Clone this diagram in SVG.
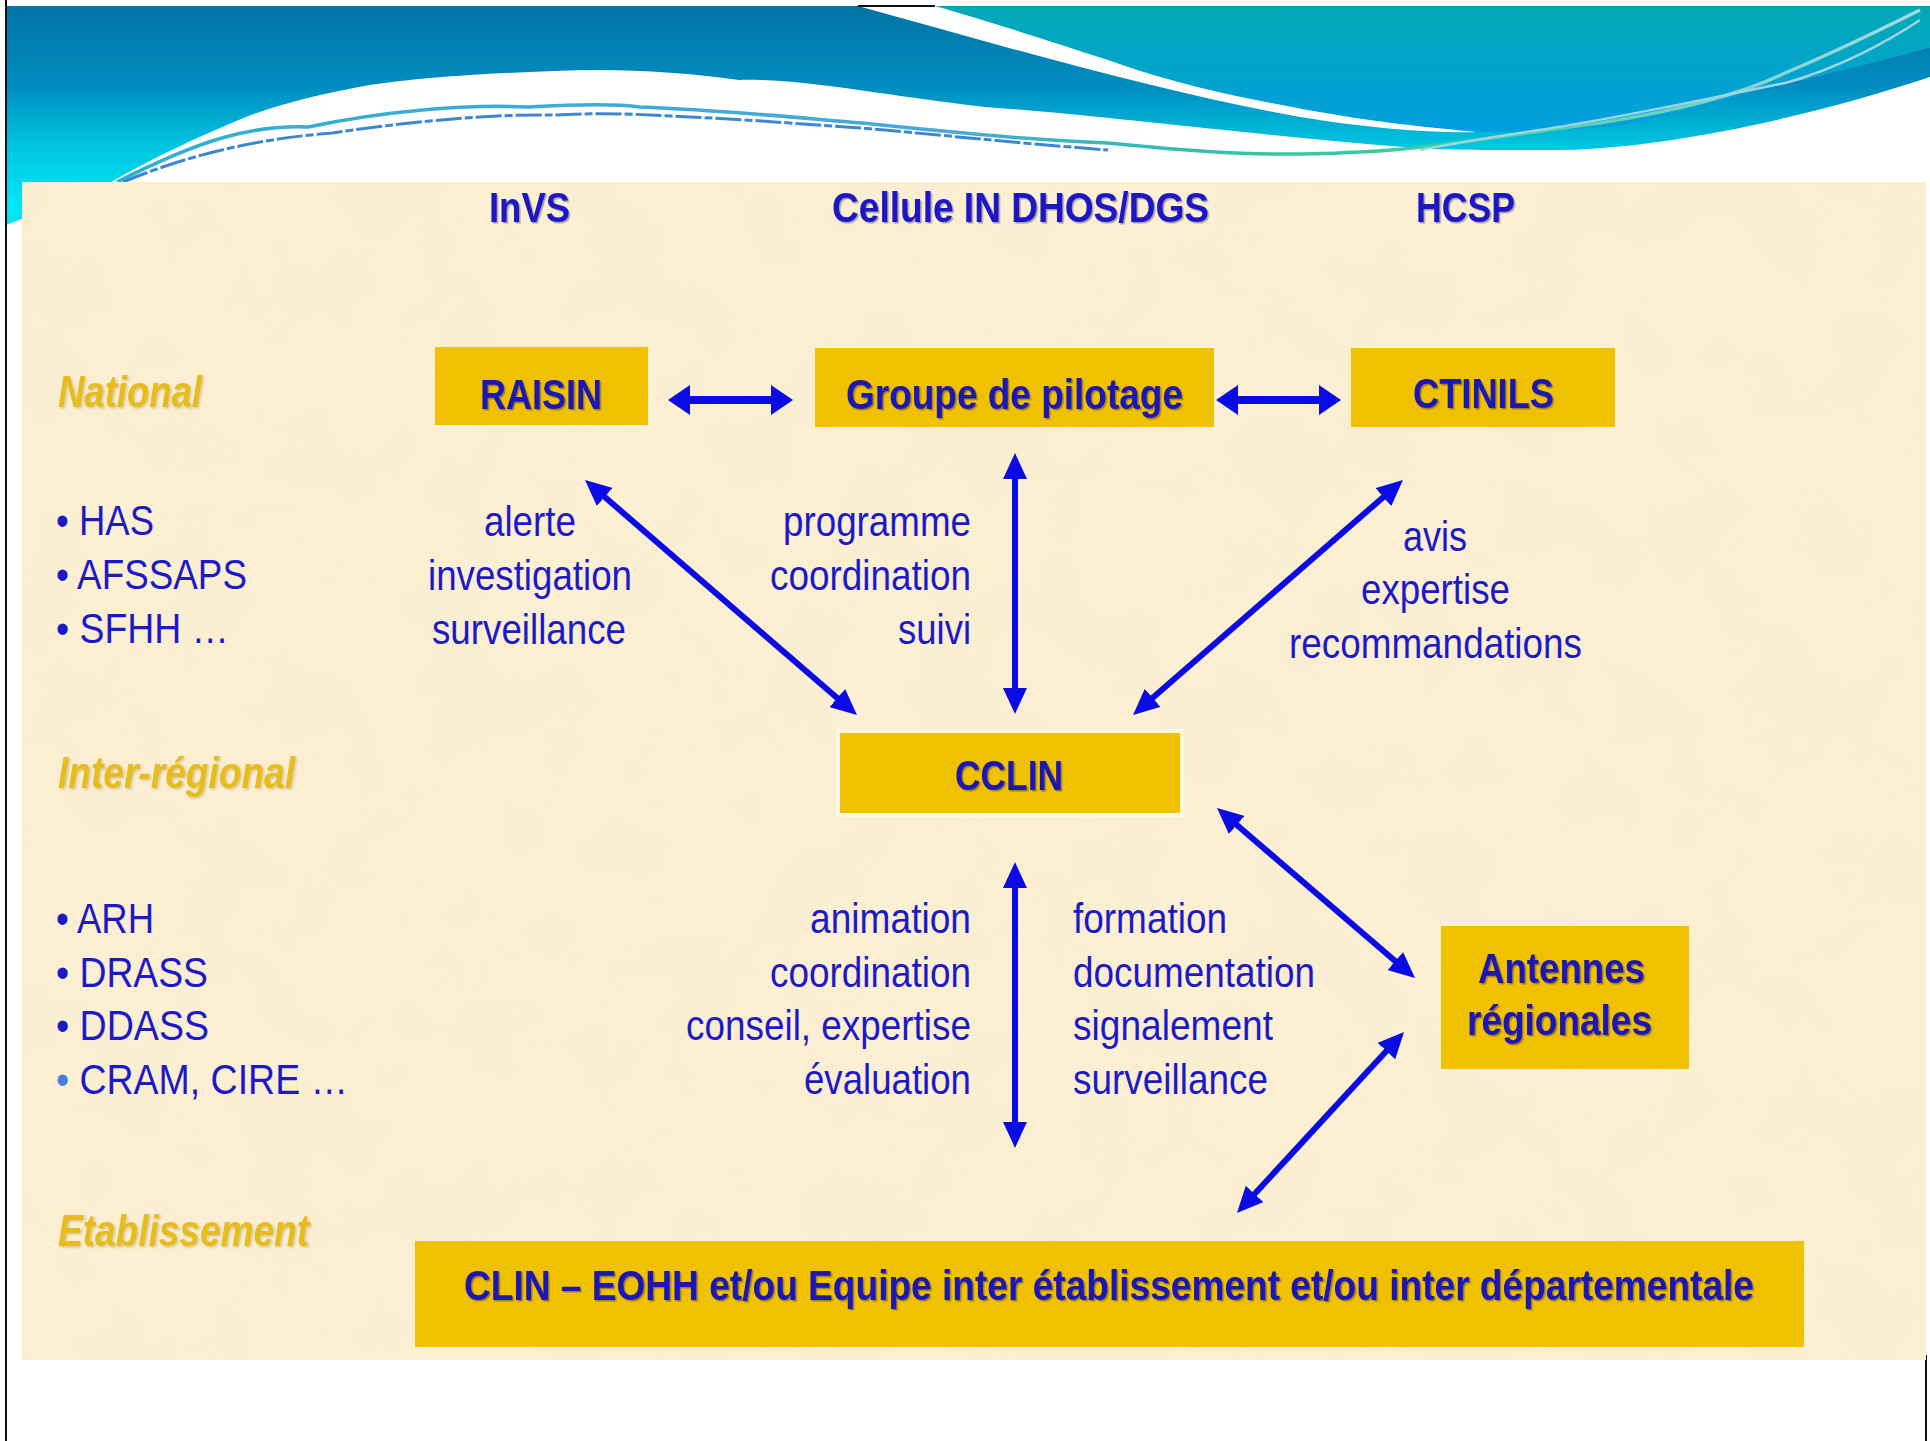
<svg xmlns="http://www.w3.org/2000/svg" width="1930" height="1441" viewBox="0 0 1930 1441">
<defs>
<linearGradient id="gLeft" x1="0" y1="6" x2="0" y2="205" gradientUnits="userSpaceOnUse">
<stop offset="0" stop-color="#0073a4"/>
<stop offset="0.4" stop-color="#008cc0"/>
<stop offset="0.7" stop-color="#00c4e0"/>
<stop offset="1" stop-color="#00e6f2"/>
</linearGradient>
<linearGradient id="gRight" x1="0" y1="0" x2="0" y2="1">
<stop offset="0" stop-color="#00a9b4"/>
<stop offset="1" stop-color="#009fe0"/>
</linearGradient>
<linearGradient id="gLine" x1="0" y1="0" x2="1" y2="0">
<stop offset="0" stop-color="#2fb0d0"/>
<stop offset="0.45" stop-color="#4aa8d8"/>
<stop offset="0.6" stop-color="#33c0a8"/>
<stop offset="0.75" stop-color="#3fd0a0"/>
<stop offset="1" stop-color="#a8d8e8"/>
</linearGradient>
<filter id="tex" x="0" y="0" width="100%" height="100%">
<feTurbulence type="fractalNoise" baseFrequency="0.012" numOctaves="3" seed="7"/>
<feColorMatrix type="matrix" values="0 0 0 0 0.92  0 0 0 0 0.84  0 0 0 0 0.66  1.1 0 0 0 -0.42"/>
</filter>
<filter id="sh" x="-5%" y="-20%" width="110%" height="140%">
<feDropShadow dx="1.5" dy="1.5" stdDeviation="0.7" flood-color="#000040" flood-opacity="0.35"/>
</filter>
<filter id="shg" x="-5%" y="-20%" width="110%" height="140%">
<feDropShadow dx="1.5" dy="1.5" stdDeviation="0.8" flood-color="#806020" flood-opacity="0.3"/>
</filter>
<marker id="ah" markerUnits="userSpaceOnUse" markerWidth="26" markerHeight="24" refX="14" refY="12" orient="auto-start-reverse" viewBox="0 0 26 24">
<path d="M0,0 L26,12 L0,24 Z" fill="#0a0ae4"/>
</marker>
<marker id="ahh" markerUnits="userSpaceOnUse" markerWidth="22" markerHeight="30" refX="12" refY="15" orient="auto-start-reverse" viewBox="0 0 22 30">
<path d="M0,0 L22,15 L0,30 Z" fill="#0a0ae4"/>
</marker>
</defs>
<style>
.hdr{font-family:"Liberation Sans Narrow","Liberation Sans",Arial,sans-serif;font-weight:bold;font-size:43px;fill:#1a16c4;filter:url(#sh)}
.lvl{font-family:"Liberation Sans Narrow","Liberation Sans",Arial,sans-serif;font-weight:bold;font-style:italic;font-size:44px;fill:#e6bd1e;filter:url(#shg)}
.lbl{font-family:"Liberation Sans Narrow","Liberation Sans",Arial,sans-serif;font-size:43px;fill:#1c1ac8}
.btx{font-family:"Liberation Sans Narrow","Liberation Sans",Arial,sans-serif;font-weight:bold;font-size:42px;fill:#1e14b4;filter:url(#sh)}
.box{fill:#efc100}
.arr{stroke:#0a0ae4;stroke-width:6;fill:none;marker-start:url(#ah);marker-end:url(#ah)}
.arrh{stroke:#0a0ae4;stroke-width:8;fill:none;marker-start:url(#ahh);marker-end:url(#ahh)}
</style>

<!-- background and banner -->
<rect x="0" y="0" width="1930" height="1441" fill="#ffffff"/>
<path d="M6,6 L858,6 C1000,45 1150,90 1300,117 C1380,130 1440,133 1477,132 C1600,128 1750,95 1930,47 L1930,77 C1800,120 1650,152 1539,150 C1480,150 1440,150 1416,148 C1250,135 1100,115 985,107 C880,95 800,78 739,80 C680,72 620,68 554,71 C470,74 420,78 369,85 C320,94 280,104 246,117 C190,140 150,160 111,182 C70,200 40,212 6,225 Z" fill="url(#gLeft)"/>
<path d="M935,6 L1930,6 L1930,47 C1850,70 1800,80 1785,83 C1700,105 1650,125 1600,127 C1560,130 1520,133 1477,132 C1400,125 1350,118 1292,107 C1200,90 1150,75 1108,60 C1040,38 985,20 935,6 Z" fill="url(#gRight)"/>
<path d="M117,182 C200,140 250,125 308,127 C380,112 460,104 529,107 C580,104 620,104 640,107 C720,110 790,117 862,123 C950,132 1030,140 1108,143 C1180,150 1240,155 1292,154 C1330,154 1360,152 1391,150 C1450,145 1530,132 1600,123 C1680,110 1740,95 1785,73 C1840,50 1890,25 1920,10" fill="none" stroke="url(#gLine)" stroke-width="3.5"/>
<path d="M123,182 C200,150 270,138 332,133 C420,120 500,114 554,115 C610,112 650,115 689,117 C760,120 810,125 862,128 C950,136 1040,145 1108,150" fill="none" stroke="#3d86d2" stroke-width="3" stroke-dasharray="26 3 8 3"/>
<path d="M1420,150 C1460,142 1500,136 1539,130 C1620,118 1700,100 1785,83 C1840,68 1890,40 1920,20" fill="none" stroke="#9fd4e6" stroke-width="2.5"/>
<line x1="858" y1="6" x2="935" y2="6" stroke="#111111" stroke-width="2"/>
<line x1="6" y1="0" x2="6" y2="1441" stroke="#111111" stroke-width="2"/>
<line x1="1926" y1="1355" x2="1926" y2="1441" stroke="#111111" stroke-width="2"/>

<!-- beige panel -->
<rect x="22" y="182" width="1904" height="1178" fill="#fcefd2"/>
<rect x="22" y="182" width="1904" height="1178" filter="url(#tex)" opacity="0.75"/>

<!-- column headers -->
<g id="headers">
<text class="hdr" x="489" y="222" textLength="81" lengthAdjust="spacingAndGlyphs">InVS</text>
<text class="hdr" x="832" y="222" textLength="377" lengthAdjust="spacingAndGlyphs">Cellule IN DHOS/DGS</text>
<text class="hdr" x="1416" y="222" textLength="99" lengthAdjust="spacingAndGlyphs">HCSP</text>
</g>

<!-- level labels -->
<g id="levels">
<text class="lvl" x="58" y="407" textLength="144" lengthAdjust="spacingAndGlyphs">National</text>
<text class="lvl" x="58" y="788" textLength="237" lengthAdjust="spacingAndGlyphs">Inter-régional</text>
<text class="lvl" x="58" y="1246" textLength="251" lengthAdjust="spacingAndGlyphs">Etablissement</text>
</g>

<!-- bullet lists -->
<g id="national-list">
<text class="lbl" x="56" y="535" textLength="98" lengthAdjust="spacingAndGlyphs">• HAS</text>
<text class="lbl" x="56" y="589" textLength="191" lengthAdjust="spacingAndGlyphs">• AFSSAPS</text>
<text class="lbl" x="56" y="643" textLength="173" lengthAdjust="spacingAndGlyphs">• SFHH …</text>
</g>
<g id="regional-list">
<text class="lbl" x="56" y="933" textLength="98" lengthAdjust="spacingAndGlyphs">• ARH</text>
<text class="lbl" x="56" y="987" textLength="152" lengthAdjust="spacingAndGlyphs">• DRASS</text>
<text class="lbl" x="56" y="1040" textLength="153" lengthAdjust="spacingAndGlyphs">• DDASS</text>
<text class="lbl" x="56" y="1094" textLength="292" lengthAdjust="spacingAndGlyphs"><tspan fill="#4a7ce0">•</tspan> CRAM, CIRE …</text>
</g>

<!-- nodes -->
<g id="raisin">
<rect x="435" y="347" width="213" height="81" fill="#fbf3dc"/>
<rect class="box" x="435" y="347" width="213" height="78"/>
<text class="btx" x="480" y="409" textLength="122" lengthAdjust="spacingAndGlyphs">RAISIN</text>
</g>
<g id="groupe-pilotage">
<rect class="box" x="815" y="348" width="399" height="79"/>
<text class="btx" x="846" y="409" textLength="337" lengthAdjust="spacingAndGlyphs">Groupe de pilotage</text>
</g>
<g id="ctinils">
<rect class="box" x="1351" y="348" width="264" height="79"/>
<text class="btx" x="1413" y="408" textLength="141" lengthAdjust="spacingAndGlyphs">CTINILS</text>
</g>
<g id="cclin">
<rect class="box" x="838" y="731" width="344" height="84" stroke="#fff8e4" stroke-width="4"/>
<text class="btx" x="955" y="790" textLength="108" lengthAdjust="spacingAndGlyphs">CCLIN</text>
</g>
<g id="antennes">
<rect class="box" x="1441" y="926" width="248" height="143"/>
<text class="btx" x="1478" y="983" textLength="167" lengthAdjust="spacingAndGlyphs">Antennes</text>
<text class="btx" x="1467" y="1035" textLength="185" lengthAdjust="spacingAndGlyphs">régionales</text>
</g>
<g id="clin">
<rect class="box" x="415" y="1241" width="1389" height="106"/>
<text class="btx" x="464" y="1300" textLength="1290" lengthAdjust="spacingAndGlyphs">CLIN – EOHH et/ou Equipe inter établissement et/ou inter départementale</text>
</g>

<!-- connector labels -->
<g id="labels">
<text class="lbl" x="484" y="536" textLength="92" lengthAdjust="spacingAndGlyphs">alerte</text>
<text class="lbl" x="428" y="590" textLength="204" lengthAdjust="spacingAndGlyphs">investigation</text>
<text class="lbl" x="432" y="644" textLength="194" lengthAdjust="spacingAndGlyphs">surveillance</text>
<text class="lbl" x="783" y="536" textLength="188" lengthAdjust="spacingAndGlyphs">programme</text>
<text class="lbl" x="770" y="590" textLength="201" lengthAdjust="spacingAndGlyphs">coordination</text>
<text class="lbl" x="898" y="644" textLength="73" lengthAdjust="spacingAndGlyphs">suivi</text>
<text class="lbl" x="1403" y="551" textLength="64" lengthAdjust="spacingAndGlyphs">avis</text>
<text class="lbl" x="1361" y="604" textLength="149" lengthAdjust="spacingAndGlyphs">expertise</text>
<text class="lbl" x="1289" y="658" textLength="293" lengthAdjust="spacingAndGlyphs">recommandations</text>
<text class="lbl" x="810" y="933" textLength="161" lengthAdjust="spacingAndGlyphs">animation</text>
<text class="lbl" x="770" y="987" textLength="201" lengthAdjust="spacingAndGlyphs">coordination</text>
<text class="lbl" x="686" y="1040" textLength="285" lengthAdjust="spacingAndGlyphs">conseil, expertise</text>
<text class="lbl" x="804" y="1094" textLength="167" lengthAdjust="spacingAndGlyphs">évaluation</text>
<text class="lbl" x="1073" y="933" textLength="154" lengthAdjust="spacingAndGlyphs">formation</text>
<text class="lbl" x="1073" y="987" textLength="242" lengthAdjust="spacingAndGlyphs">documentation</text>
<text class="lbl" x="1073" y="1040" textLength="200" lengthAdjust="spacingAndGlyphs">signalement</text>
<text class="lbl" x="1073" y="1094" textLength="195" lengthAdjust="spacingAndGlyphs">surveillance</text>
</g>

<!-- connectors -->
<g id="connectors">
<line class="arrh" x1="678" y1="400" x2="783" y2="400"/>
<line class="arrh" x1="1226" y1="400" x2="1331" y2="400"/>
<line class="arr" x1="1015" y1="465" x2="1015" y2="702"/>
<line class="arr" x1="594.1" y1="487.8" x2="847.9" y2="707.2"/>
<line class="arr" x1="1393.9" y1="487.9" x2="1142.1" y2="707.1"/>
<line class="arr" x1="1226.1" y1="815.8" x2="1405.9" y2="970.2"/>
<line class="arr" x1="1395.9" y1="1040.8" x2="1245.1" y2="1204.2"/>
<line class="arr" x1="1015" y1="874" x2="1015" y2="1136"/>
</g>
</svg>
